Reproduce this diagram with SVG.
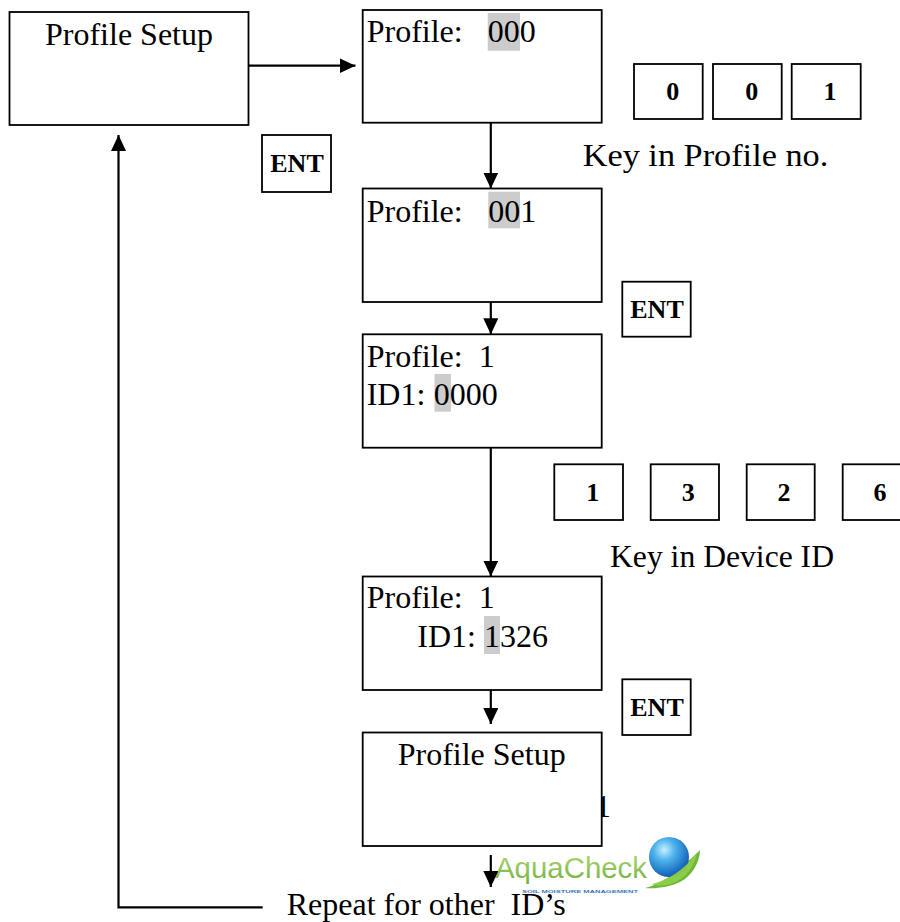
<svg xmlns="http://www.w3.org/2000/svg" width="900" height="922" viewBox="0 0 900 922">
<style>
.box{fill:#fff;stroke:#000;stroke-width:1.8}
.t{font-family:"Liberation Serif","Times New Roman",serif;font-size:32px;fill:#000}
.b{font-family:"Liberation Serif","Times New Roman",serif;font-size:26px;font-weight:bold;fill:#000;text-anchor:middle}
.hl{fill:#cccccc}
.c{fill:none;stroke:#000;stroke-width:2.2}
</style>
<defs>
<marker id="ah" markerUnits="userSpaceOnUse" markerWidth="16" markerHeight="15" refX="16" refY="7.5" orient="auto">
<path d="M0,0 L16,7.5 L0,15 z" fill="#000"/>
</marker>
<radialGradient id="globe" cx="0.38" cy="0.32" r="0.75">
<stop offset="0" stop-color="#c8f0ff"/>
<stop offset="0.35" stop-color="#4fb4ec"/>
<stop offset="0.8" stop-color="#1b6fc2"/>
<stop offset="1" stop-color="#154f98"/>
</radialGradient>
<linearGradient id="aq" x1="0" y1="0" x2="0" y2="1">
<stop offset="0" stop-color="#b5d97a"/>
<stop offset="1" stop-color="#6fae3a"/>
</linearGradient>
</defs>

<g id="stray-text">
<text class="t" x="595" y="817">1</text>
</g>

<g id="node-profile-setup-top">
<rect class="box" x="9.5" y="12" width="239" height="113"/>
<text class="t" x="129" y="45" text-anchor="middle">Profile Setup</text>
</g>

<g id="node-profile-000">
<rect class="box" x="362.7" y="10" width="239" height="112.7"/>
<rect class="hl" x="487.7" y="13" width="32.3" height="37.7"/>
<text class="t" x="366.7" y="41.7">Profile:<tspan x="487.7">000</tspan></text>
</g>

<g id="node-profile-001">
<rect class="box" x="362.7" y="188.5" width="239" height="113.5"/>
<rect class="hl" x="488.3" y="191.7" width="31.7" height="36.6"/>
<text class="t" x="366.7" y="221.7">Profile:<tspan x="488.3">001</tspan></text>
</g>

<g id="node-profile-1-id-0000">
<rect class="box" x="362.7" y="334.3" width="239" height="113.4"/>
<rect class="hl" x="434.5" y="374" width="16.5" height="37.7"/>
<text class="t" x="366.7" y="366.7">Profile:<tspan x="478.7">1</tspan></text>
<text class="t" x="366.7" y="405">ID1:<tspan x="433.8">0000</tspan></text>
</g>

<g id="node-profile-1-id-1326">
<rect class="box" x="362.7" y="576.5" width="239" height="113.5"/>
<rect class="hl" x="484" y="616" width="16" height="38"/>
<text class="t" x="366.7" y="608.3">Profile:<tspan x="478.7">1</tspan></text>
<text class="t" x="417.3" y="646.7">ID1:<tspan x="484">1326</tspan></text>
</g>

<g id="node-profile-setup-bottom">
<rect class="box" x="362.7" y="732.5" width="239" height="113.5"/>
<text class="t" x="481.7" y="765" text-anchor="middle">Profile Setup</text>
</g>

<g id="key-ent-1">
<rect class="box" x="262" y="135" width="69" height="57"/>
<text class="b" x="297" y="172.3">ENT</text>
</g>
<g id="key-ent-2">
<rect class="box" x="622.3" y="281.7" width="68.4" height="55"/>
<text class="b" x="657" y="318.3">ENT</text>
</g>
<g id="key-ent-3">
<rect class="box" x="622.3" y="679.3" width="68.4" height="55.7"/>
<text class="b" x="657" y="716">ENT</text>
</g>

<g id="keys-profile-no">
<rect class="box" x="634" y="64" width="68.7" height="55"/>
<text class="b" x="672.7" y="100">0</text>
<rect class="box" x="713" y="64" width="68.7" height="55"/>
<text class="b" x="751.7" y="100">0</text>
<rect class="box" x="791.7" y="64" width="69" height="55"/>
<text class="b" x="830" y="100">1</text>
<text class="t" x="582.7" y="165.7" textLength="245.6" lengthAdjust="spacingAndGlyphs">Key in Profile no.</text>
</g>

<g id="keys-device-id">
<rect class="box" x="554.3" y="464.3" width="68.7" height="55.7"/>
<text class="b" x="592.7" y="500.7">1</text>
<rect class="box" x="650.7" y="464.3" width="68.3" height="55.7"/>
<text class="b" x="688.3" y="500.7">3</text>
<rect class="box" x="746.7" y="464.3" width="68" height="55.7"/>
<text class="b" x="784" y="500.7">2</text>
<rect class="box" x="842.7" y="464.3" width="68.5" height="55.7"/>
<text class="b" x="880" y="500.7">6</text>
<text class="t" x="610" y="566.7" textLength="224" lengthAdjust="spacingAndGlyphs">Key in Device ID</text>
</g>

<g id="logo-aquacheck">
<text x="495" y="878" font-family="Liberation Sans, Arial, sans-serif" font-size="29" fill="url(#aq)" textLength="152" lengthAdjust="spacingAndGlyphs">AquaCheck</text>
<text x="522" y="893" font-family="Liberation Sans, Arial, sans-serif" font-size="4" font-weight="bold" fill="#3a78b8" textLength="116" lengthAdjust="spacingAndGlyphs">SOIL MOISTURE MANAGEMENT</text>
<path d="M645,888 C660,884 668,878 680,868 C690,860 695,855 700,850 C700,862 692,876 680,882 C670,887 656,889 645,888 z" fill="#6fb83a"/>
<circle cx="669" cy="857" r="20" fill="url(#globe)"/>
<path d="M652,884 C668,880 684,870 697,853 C694,868 684,880 670,884 C662,886 656,886 652,884 z" fill="#8fcf4a" opacity="0.9"/>
</g>

<g id="connectors">
<line class="c" x1="248.5" y1="65.7" x2="355.5" y2="65.7" marker-end="url(#ah)"/>
<line class="c" x1="490.8" y1="122.7" x2="490.8" y2="188.5" marker-end="url(#ah)"/>
<line class="c" x1="490.8" y1="302" x2="490.8" y2="334.3" marker-end="url(#ah)"/>
<line class="c" x1="490.8" y1="447.7" x2="490.8" y2="576.5" marker-end="url(#ah)"/>
<line class="c" x1="490.8" y1="690" x2="490.8" y2="724" marker-end="url(#ah)"/>
<line class="c" x1="490.8" y1="855" x2="490.8" y2="887" marker-end="url(#ah)"/>
<polyline class="c" points="262.7,907.3 118.5,907.3 118.5,135" marker-end="url(#ah)"/>
</g>

<g id="label-repeat">
<text class="t" x="286.7" y="915" xml:space="preserve">Repeat for other  ID’s</text>
</g>
</svg>
